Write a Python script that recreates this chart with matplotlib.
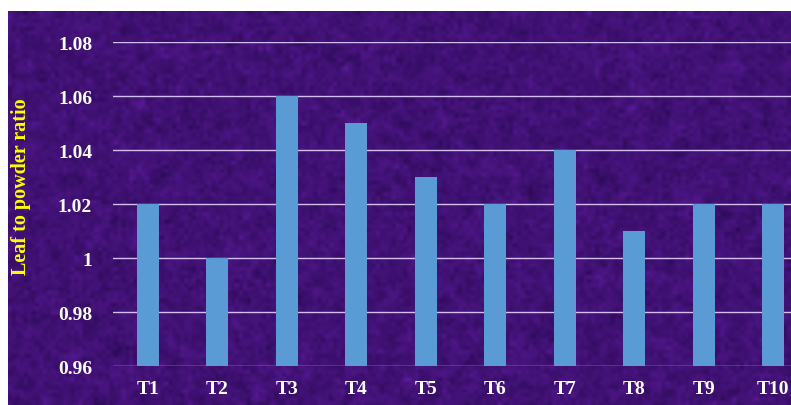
import numpy as np
import matplotlib.pyplot as plt

treatments = ["T1", "T2", "T3", "T4", "T5", "T6", "T7", "T8", "T9", "T10"]
ratio = [1.02, 1.00, 1.06, 1.05, 1.03, 1.02, 1.04, 1.01, 1.02, 1.02]
yticks = [0.96, 0.98, 1.00, 1.02, 1.04, 1.06, 1.08]
ytick_labels = ["0.96", "0.98", "1", "1.02", "1.04", "1.06", "1.08"]

W, H = 791, 406
fig = plt.figure(figsize=(W / 100, H / 100), dpi=100)
fig.patch.set_facecolor("white")

# ---------- textured purple backdrop ----------
bg = fig.add_axes([8 / W, 0, 1 - 8 / W, (H - 12) / H])
rng = np.random.default_rng(3)
noise = rng.normal(size=(100, 200))
pad = np.pad(noise, 1, mode="wrap")
smooth = sum(pad[i:i + 100, j:j + 200] for i in range(3) for j in range(3)) / 9
tex = smooth + rng.normal(size=(100, 200)) * 0.5
tex = (tex - tex.min()) / (tex.max() - tex.min())
hi = np.array([92, 28, 155]) / 255
lo = np.array([40, 8, 82]) / 255
img = lo + (hi - lo) * tex[..., None]
bg.imshow(img, aspect="auto", interpolation="bilinear")
bg.axis("off")

# ---------- bar chart ----------
ax = fig.add_axes([113 / W, 39 / H, (808 - 113) / W, (367 - 43) / H])
ax.patch.set_alpha(0)
x = np.arange(len(treatments))
ax.set_axisbelow(True)
ax.yaxis.grid(True, color="#d2bfee", linewidth=1.0)
ax.bar(x, ratio, width=0.32, color="#5b9bd5", zorder=2)
ax.set_xlim(-0.5, len(treatments) - 0.5)
ax.set_ylim(0.96, 1.08)
ax.set_yticks(yticks)
ax.set_yticklabels(ytick_labels)
ax.set_xticks(x)
ax.set_xticklabels(treatments)

font = dict(family="Liberation Serif", weight="bold", size=14, color="white")
for lbl in ax.get_yticklabels() + ax.get_xticklabels():
    lbl.set(**font)
ax.tick_params(length=0)
ax.tick_params(axis="y", pad=15)
ax.tick_params(axis="x", pad=10)
for s in ax.spines.values():
    s.set_visible(False)

ax.set_ylabel("Leaf to powder ratio", family="Liberation Serif", weight="bold",
              size=14.5, color="#ffff00")
ax.yaxis.set_label_coords(-0.118, 0.556)

fig.savefig("out.png", dpi=100)
